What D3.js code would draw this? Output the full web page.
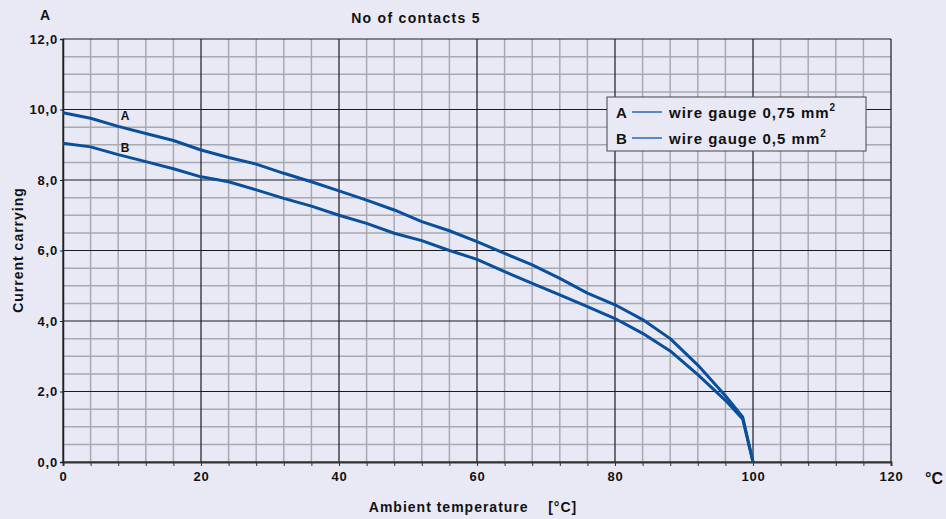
<!DOCTYPE html>
<html>
<head>
<meta charset="utf-8">
<script src="https://cdn.jsdelivr.net/npm/d3@7"></script>
<style>
  html, body { margin: 0; padding: 0; background: #e9e9f5; }
  svg { display: block; font-family: "Liberation Sans", Arial, sans-serif; font-weight: bold; fill: #111; }
  .tick text { font-family: "Liberation Sans", Arial, sans-serif; font-weight: bold; font-size: 13px; letter-spacing: 0.8px; fill: #111; }
</style>
</head>
<body>
<div class="plot"></div>
<script>
// temperature [°C] and current [A]
var tempA = [0, 4, 8, 12, 16, 20, 24, 28, 32, 36, 40, 44, 48, 52, 56, 60, 64, 68, 72, 76, 80, 84, 88, 92, 96, 98.5, 100];
var currA = [9.91, 9.75, 9.52, 9.32, 9.12, 8.85, 8.64, 8.45, 8.19, 7.95, 7.69, 7.43, 7.15, 6.82, 6.56, 6.25, 5.92, 5.59, 5.21, 4.79, 4.46, 4.04, 3.5, 2.75, 1.88, 1.28, 0];
var tempB = [0, 4, 8, 12, 16, 20, 24, 28, 32, 36, 40, 44, 48, 52, 56, 60, 64, 68, 72, 76, 80, 84, 88, 92, 96, 98.5, 100];
var currB = [9.04, 8.94, 8.72, 8.52, 8.32, 8.09, 7.95, 7.72, 7.48, 7.26, 7.0, 6.77, 6.49, 6.28, 6.0, 5.75, 5.4, 5.07, 4.74, 4.41, 4.07, 3.65, 3.15, 2.48, 1.75, 1.22, 0];

var xTicks = [0, 20, 40, 60, 80, 100, 120];
var yTicks = [0, 2, 4, 6, 8, 10, 12];
var legendKeys = ["A", "B"];
var legendText = ["wire gauge 0,75 mm", "wire gauge 0,5 mm"];

var W = 946, H = 519;
var blue = "#0a4f9c";

var svg = d3.select('.plot')
	.append('svg')
	.attr('width', W)
	.attr('height', H);

svg.append('rect').attr('width', W).attr('height', H).style('fill', '#e9e9f5');

var x = d3.scaleLinear().domain([0, 120]).range([63, 891]),
	y = d3.scaleLinear().domain([0, 12]).range([462, 39]);

// grid - minor first, then major on top
var grid = svg.append('g').attr('class', 'grid');
var minorX = d3.range(0, 121, 4).filter(function(d){ return d % 20 !== 0; }),
	minorY = d3.range(0, 12.01, 0.5).filter(function(d){ return d % 2 !== 0; });

grid.selectAll('.vminor').data(minorX).enter().append('line')
	.attr('x1', d=>x(d)).attr('x2', d=>x(d))
	.attr('y1', y(0)).attr('y2', y(12))
	.style('stroke', '#a9a9b0').style('stroke-width', 1.5);
grid.selectAll('.hminor').data(minorY).enter().append('line')
	.attr('x1', x(0)).attr('x2', x(120))
	.attr('y1', d=>y(d)).attr('y2', d=>y(d))
	.style('stroke', '#a9a9b0').style('stroke-width', 1.5);
grid.selectAll('.vmajor').data(xTicks).enter().append('line')
	.attr('x1', d=>x(d)).attr('x2', d=>x(d))
	.attr('y1', y(0)).attr('y2', y(12))
	.style('stroke', '#1a1a1a').style('stroke-width', 1.2);
grid.selectAll('.hmajor').data(yTicks).enter().append('line')
	.attr('x1', x(0)).attr('x2', x(120))
	.attr('y1', d=>y(d)).attr('y2', d=>y(d))
	.style('stroke', '#1a1a1a').style('stroke-width', 1.2);

// axes
var xAxis = d3.axisBottom(x)
	.tickValues(d3.range(0, 121, 4))
	.tickFormat(function(d){ return d % 20 === 0 ? d : ''; })
	.tickSize(4).tickPadding(6);
var gx = svg.append('g').attr('transform', 'translate(0,' + y(0) + ')').call(xAxis);
gx.select('.domain').style('stroke', '#333').style('stroke-width', 2);
gx.selectAll('.tick line').style('stroke', '#333');

var yAxis = d3.axisLeft(y)
	.tickValues(yTicks)
	.tickFormat(function(d){ return d3.format('.1f')(d).replace('.', ','); })
	.tickSize(3).tickPadding(2);
var gy = svg.append('g').attr('transform', 'translate(' + x(0) + ',0)').call(yAxis);
gy.select('.domain').style('stroke', '#222').style('stroke-width', 1.5);
gy.selectAll('.tick line').style('stroke', '#222');

// curves
var line = d3.line().x(d=>x(d[0])).y(d=>y(d[1]));
var seriesA = tempA.map(function(t, i){ return [t, currA[i]]; }),
	seriesB = tempB.map(function(t, i){ return [t, currB[i]]; });

[seriesA, seriesB].forEach(function(s){
	svg.append('path').datum(s)
		.attr('d', line)
		.style('fill', 'none')
		.style('stroke', blue)
		.style('stroke-width', 3)
		.style('stroke-linejoin', 'round');
});

// curve labels
svg.append('text').attr('x', x(9)).attr('y', y(9.7)).text('A')
	.style('font-size', '12px').attr('text-anchor', 'middle');
svg.append('text').attr('x', x(9)).attr('y', y(8.8)).text('B')
	.style('font-size', '12px').attr('text-anchor', 'middle');

// legend
var lg = svg.append('g').attr('class', 'legend');
lg.append('rect')
	.attr('x', 607).attr('y', 97).attr('width', 259).attr('height', 54)
	.style('fill', '#e9e9f5').style('stroke', '#444').style('stroke-width', 1);
legendKeys.forEach(function(k, i){
	var cy = 112 + i * 26;
	lg.append('text').attr('x', 616).attr('y', cy + 5.5).text(k).style('font-size', '15px');
	lg.append('line').attr('x1', 632).attr('x2', 662).attr('y1', cy).attr('y2', cy)
		.style('stroke', '#2a66b4').style('stroke-width', 1.5);
	var t = lg.append('text').attr('x', 669).attr('y', cy + 5.5)
		.style('font-size', '15px').style('letter-spacing', '1px');
	t.append('tspan').text(legendText[i]);
	t.append('tspan').text('2').attr('dy', -7).style('font-size', '10px');
});

// titles
svg.append('text').attr('x', 416).attr('y', 23).attr('text-anchor', 'middle')
	.text('No of contacts 5').style('font-size', '14px').style('letter-spacing', '1.3px');
svg.append('text').attr('x', 45).attr('y', 20).attr('text-anchor', 'middle')
	.text('A').style('font-size', '14px');
svg.append('text').attr('x', 934).attr('y', 484).attr('text-anchor', 'middle')
	.text('°C').style('font-size', '16px');
svg.append('text').attr('x', 473).attr('y', 512).attr('text-anchor', 'middle')
	.attr('xml:space', 'preserve')
	.text('Ambient temperature    [°C]').style('font-size', '14px').style('letter-spacing', '1px');
svg.append('text')
	.attr('transform', 'translate(23,' + 250 + ') rotate(-90)')
	.attr('text-anchor', 'middle')
	.text('Current carrying').style('font-size', '14px').style('letter-spacing', '1px');
</script>
</body>
</html>
